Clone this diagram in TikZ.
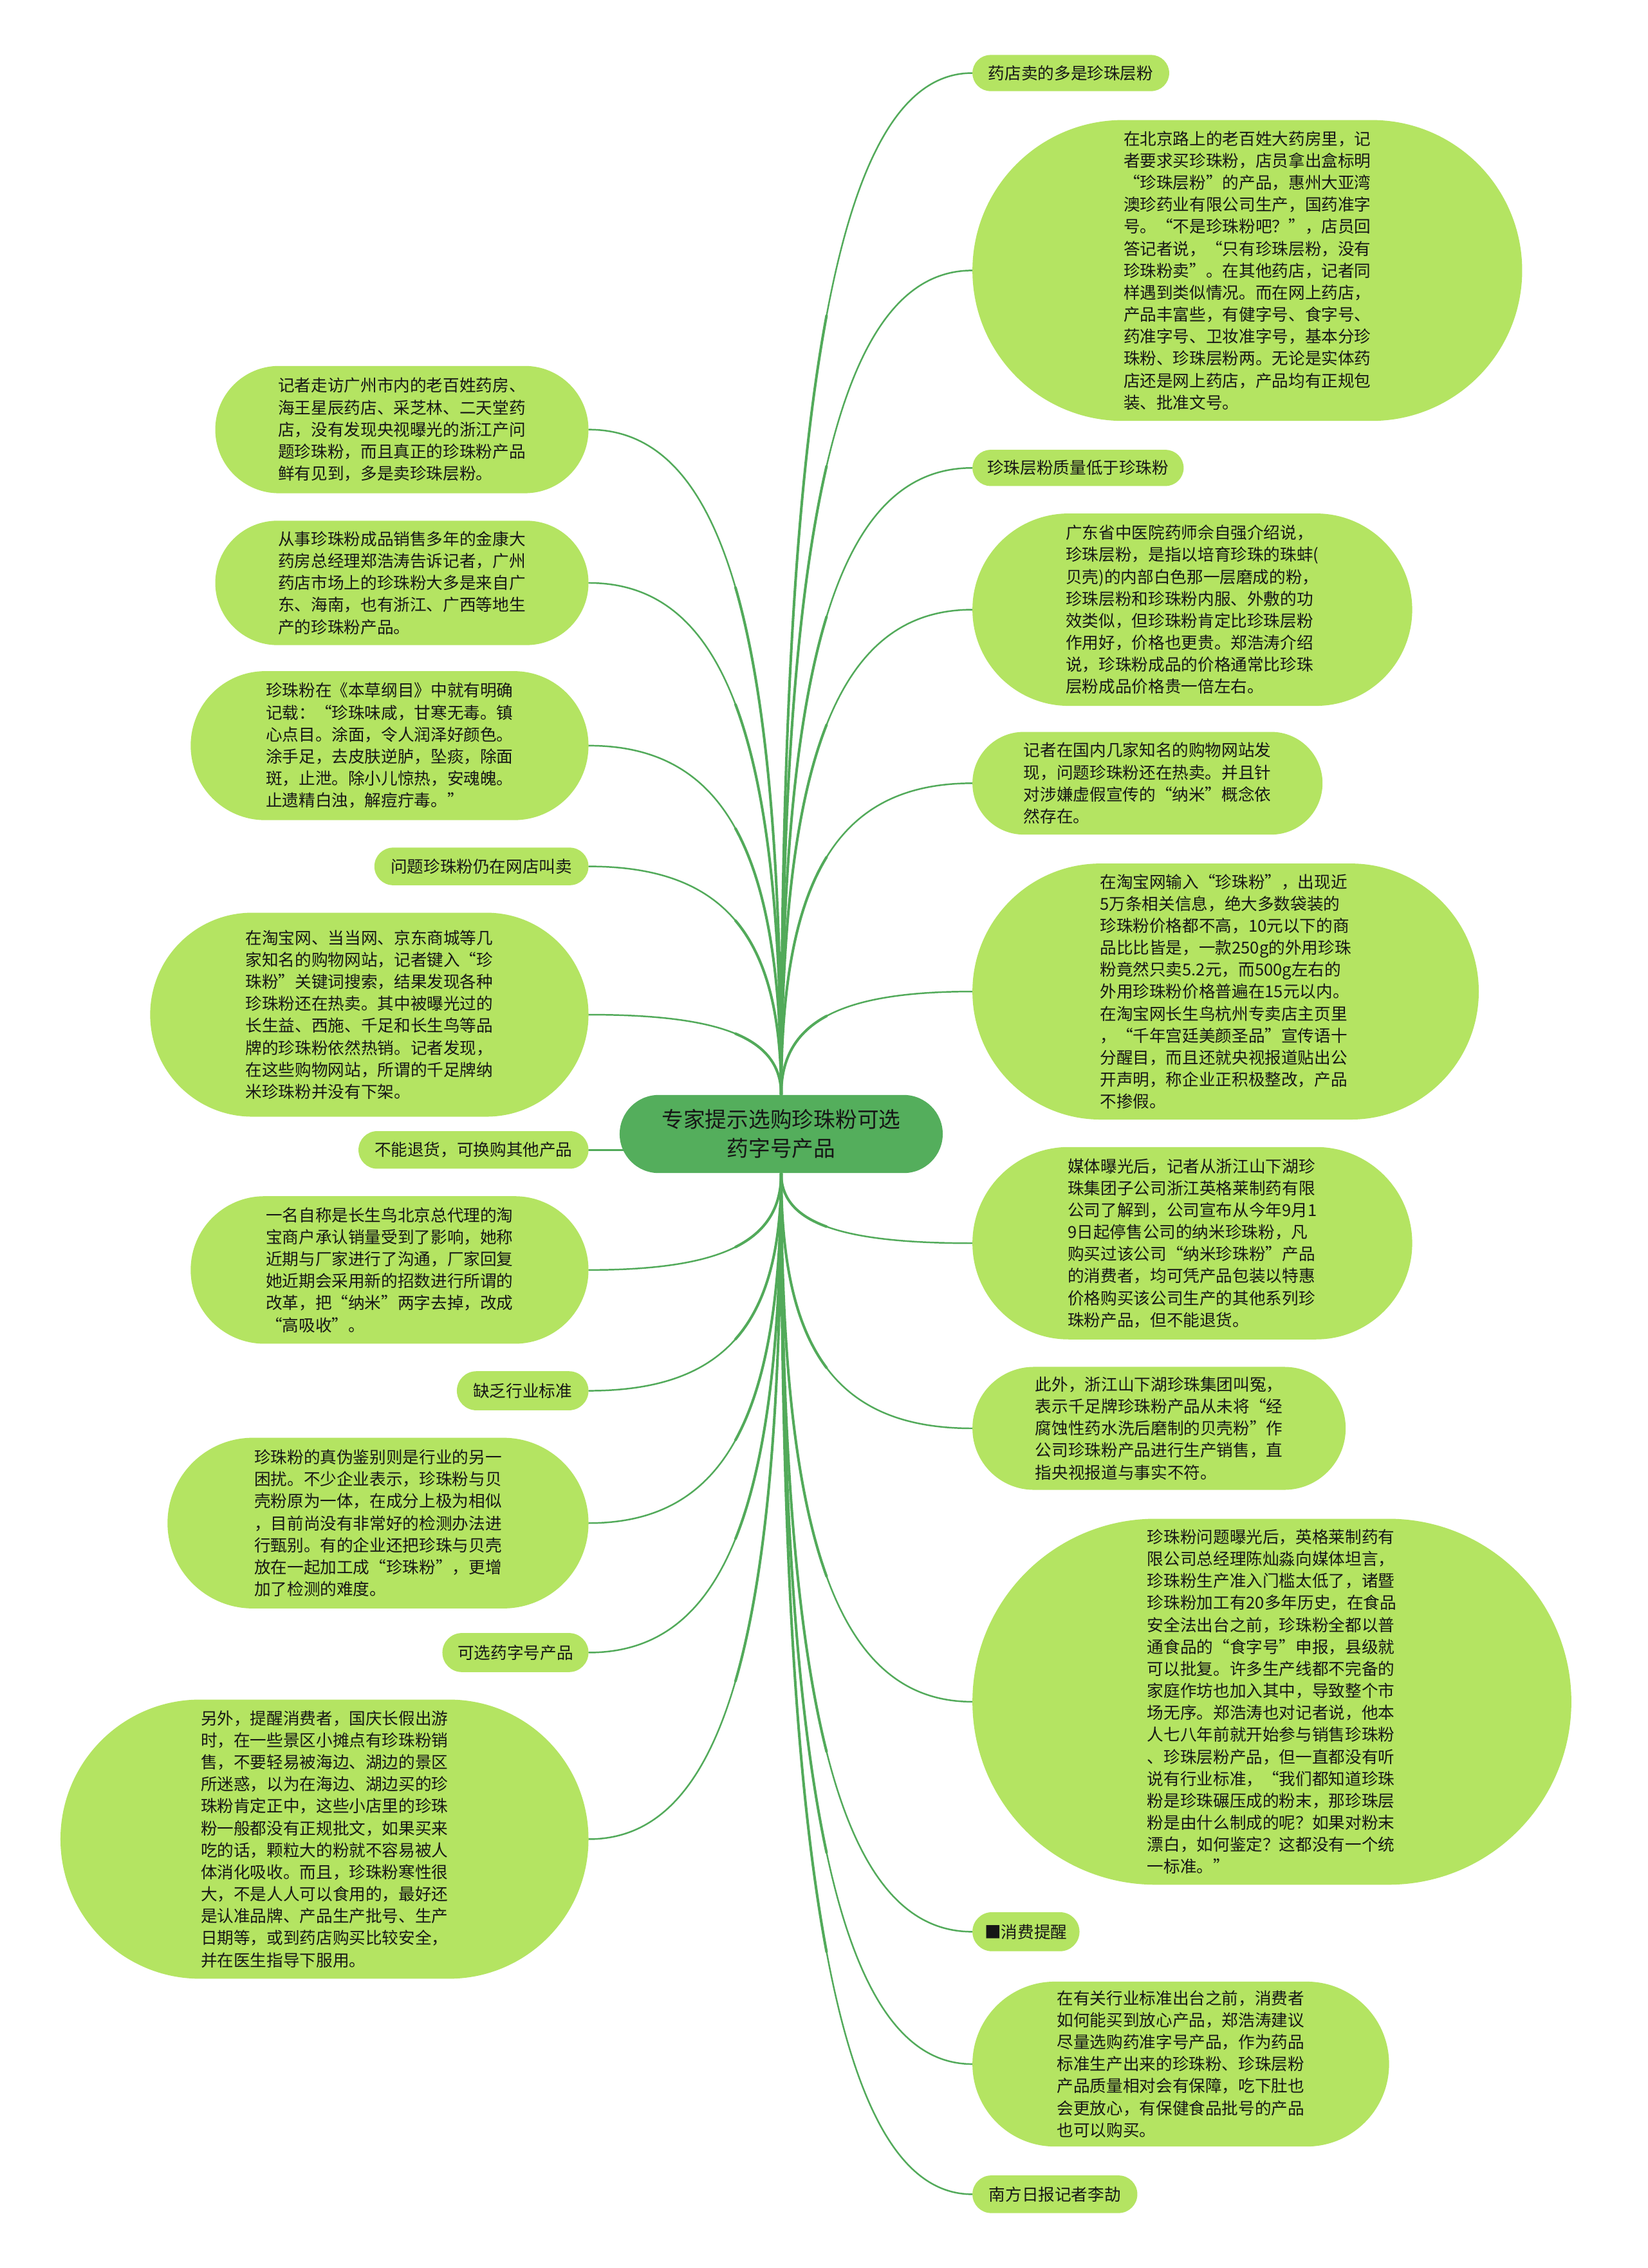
\documentclass[tikz,border=0pt]{standalone}
\usepackage{fontspec}
\setmainfont{Noto Sans CJK SC}
\usetikzlibrary{shapes.misc,calc}
\definecolor{leafg}{RGB}{180,228,98}
\definecolor{cenG}{RGB}{84,174,92}
\definecolor{lineg}{RGB}{82,170,90}
\definecolor{txt}{RGB}{22,22,22}
\pgfdeclarelayer{background}
\pgfsetlayers{background,main}
\newcommand\mmlink[2]{%
 \coordinate (P0) at (#1);
 \coordinate (P3) at (#2);
 \coordinate (C1) at ($(#1)!0.7!(#1 |- #2)$);
 \coordinate (C2) at ($(#2)!0.7!(#1 |- #2)$);
 \draw[conn] (P0) .. controls (C1) and (C2) .. (P3);
 \coordinate (A1) at ($(P0)!0.5!(C1)$);
 \coordinate (B1) at ($(C1)!0.5!(C2)$);
 \coordinate (D1) at ($(C2)!0.5!(P3)$);
 \coordinate (A2) at ($(A1)!0.5!(B1)$);
 \coordinate (B2) at ($(B1)!0.5!(D1)$);
 \coordinate (M) at ($(A2)!0.5!(B2)$);
 \draw[conn, line width=1.8pt] (P0) .. controls (A1) and (A2) .. (M);
}
\tikzset{
 leaf/.style={rounded rectangle, fill=leafg, draw=none, text=txt, align=left, inner xsep=2pt, inner ysep=4pt, font=\fontsize{11.4}{15.2}\selectfont},
 rleaf/.style={leaf, anchor=west},
 lleaf/.style={leaf, anchor=east},
 cen/.style={rounded rectangle, fill=cenG, draw=none, text=txt, align=center, font=\fontsize{15}{20}\selectfont, minimum width=230pt, minimum height=54pt},
 conn/.style={draw=lineg, line width=1.1pt, line cap=round}
}
\begin{document}
\begin{tikzpicture}[x=1pt,y=-1pt]
\useasboundingbox (0,0) rectangle (1139,1568);
\node[cen] (c) at (540,784) {专家提示选购珍珠粉可选\\药字号产品};
% right side
\node[rleaf, minimum width=140pt, minimum height=25pt] (r1) at (672,50.5) {药店卖的多是珍珠层粉};
\node[rleaf, minimum width=384pt, minimum height=208pt] (r2) at (672,187) {在北京路上的老百姓大药房里，记\\
者要求买珍珠粉，店员拿出盒标明\\
“珍珠层粉”的产品，惠州大亚湾\\
澳珍药业有限公司生产，国药准字\\
号。“不是珍珠粉吧？”，店员回\\
答记者说，“只有珍珠层粉，没有\\
珍珠粉卖”。在其他药店，记者同\\
样遇到类似情况。而在网上药店，\\
产品丰富些，有健字号、食字号、\\
药准字号、卫妆准字号，基本分珍\\
珠粉、珍珠层粉两。无论是实体药\\
店还是网上药店，产品均有正规包\\
装、批准文号。};
\node[rleaf, minimum width=150pt, minimum height=25pt] (r3) at (672,323.5) {珍珠层粉质量低于珍珠粉};
\node[rleaf, minimum width=308pt, minimum height=133pt] (r4) at (672,421.5) {广东省中医院药师佘自强介绍说，\\
珍珠层粉，是指以培育珍珠的珠蚌(\\
贝壳)的内部白色那一层磨成的粉，\\
珍珠层粉和珍珠粉内服、外敷的功\\
效类似，但珍珠粉肯定比珍珠层粉\\
作用好，价格也更贵。郑浩涛介绍\\
说，珍珠粉成品的价格通常比珍珠\\
层粉成品价格贵一倍左右。};
\node[rleaf, minimum width=246pt, minimum height=71pt] (r5) at (672,541.5) {记者在国内几家知名的购物网站发\\
现，问题珍珠粉还在热卖。并且针\\
对涉嫌虚假宣传的“纳米”概念依\\
然存在。};
\node[rleaf, minimum width=354pt, minimum height=177pt] (r6) at (672,685.5) {在淘宝网输入“珍珠粉”，出现近\\
5万条相关信息，绝大多数袋装的\\
珍珠粉价格都不高，10元以下的商\\
品比比皆是，一款250g的外用珍珠\\
粉竟然只卖5.2元，而500g左右的\\
外用珍珠粉价格普遍在15元以内。\\
在淘宝网长生鸟杭州专卖店主页里\\
，“千年宫廷美颜圣品”宣传语十\\
分醒目，而且还就央视报道贴出公\\
开声明，称企业正积极整改，产品\\
不掺假。};
\node[rleaf, minimum width=308pt, minimum height=133pt] (r7) at (672,859.5) {媒体曝光后，记者从浙江山下湖珍\\
珠集团子公司浙江英格莱制药有限\\
公司了解到，公司宣布从今年9月1\\
9日起停售公司的纳米珍珠粉，凡\\
购买过该公司“纳米珍珠粉”产品\\
的消费者，均可凭产品包装以特惠\\
价格购买该公司生产的其他系列珍\\
珠粉产品，但不能退货。};
\node[rleaf, minimum width=262pt, minimum height=85pt] (r8) at (672,987.5) {此外，浙江山下湖珍珠集团叫冤，\\
表示千足牌珍珠粉产品从未将“经\\
腐蚀性药水洗后磨制的贝壳粉”作\\
公司珍珠粉产品进行生产销售，直\\
指央视报道与事实不符。};
\node[rleaf, minimum width=418pt, minimum height=253pt] (r9) at (672,1176.5) {珍珠粉问题曝光后，英格莱制药有\\
限公司总经理陈灿淼向媒体坦言，\\
珍珠粉生产准入门槛太低了，诸暨\\
珍珠粉加工有20多年历史，在食品\\
安全法出台之前，珍珠粉全都以普\\
通食品的“食字号”申报，县级就\\
可以批复。许多生产线都不完备的\\
家庭作坊也加入其中，导致整个市\\
场无序。郑浩涛也对记者说，他本\\
人七八年前就开始参与销售珍珠粉\\
、珍珠层粉产品，但一直都没有听\\
说有行业标准，“我们都知道珍珠\\
粉是珍珠碾压成的粉末，那珍珠层\\
粉是由什么制成的呢？如果对粉末\\
漂白，如何鉴定？这都没有一个统\\
一标准。”};
\node[rleaf, minimum width=78pt, minimum height=27pt] (r10) at (672,1335.5) {■消费提醒};
\node[rleaf, minimum width=292pt, minimum height=114pt] (r11) at (672,1427) {在有关行业标准出台之前，消费者\\
如何能买到放心产品，郑浩涛建议\\
尽量选购药准字号产品，作为药品\\
标准生产出来的珍珠粉、珍珠层粉\\
产品质量相对会有保障，吃下肚也\\
会更放心，有保健食品批号的产品\\
也可以购买。};
\node[rleaf, minimum width=118pt, minimum height=26pt] (r12) at (672,1517) {南方日报记者李劼};
% left side
\node[lleaf, minimum width=262pt, minimum height=88pt] (l1) at (407,297) {记者走访广州市内的老百姓药房、\\
海王星辰药店、采芝林、二天堂药\\
店，没有发现央视曝光的浙江产问\\
题珍珠粉，而且真正的珍珠粉产品\\
鲜有见到，多是卖珍珠层粉。};
\node[lleaf, minimum width=262pt, minimum height=86pt] (l2) at (407,403) {从事珍珠粉成品销售多年的金康大\\
药房总经理郑浩涛告诉记者，广州\\
药店市场上的珍珠粉大多是来自广\\
东、海南，也有浙江、广西等地生\\
产的珍珠粉产品。};
\node[lleaf, minimum width=279pt, minimum height=103pt] (l3) at (407,515.5) {珍珠粉在《本草纲目》中就有明确\\
记载：“珍珠味咸，甘寒无毒。镇\\
心点目。涂面，令人润泽好颜色。\\
涂手足，去皮肤逆胪，坠痰，除面\\
斑，止泄。除小儿惊热，安魂魄。\\
止遗精白浊，解痘疔毒。”};
\node[lleaf, minimum width=152pt, minimum height=26pt] (l4) at (407,599) {问题珍珠粉仍在网店叫卖};
\node[lleaf, minimum width=307pt, minimum height=141pt] (l5) at (407,701.5) {在淘宝网、当当网、京东商城等几\\
家知名的购物网站，记者键入“珍\\
珠粉”关键词搜索，结果发现各种\\
珍珠粉还在热卖。其中被曝光过的\\
长生益、西施、千足和长生鸟等品\\
牌的珍珠粉依然热销。记者发现，\\
在这些购物网站，所谓的千足牌纳\\
米珍珠粉并没有下架。};
\node[lleaf, minimum width=163pt, minimum height=26pt] (l6) at (407,795) {不能退货，可换购其他产品};
\node[lleaf, minimum width=279pt, minimum height=102pt] (l7) at (407,878) {一名自称是长生鸟北京总代理的淘\\
宝商户承认销量受到了影响，她称\\
近期与厂家进行了沟通，厂家回复\\
她近期会采用新的招数进行所谓的\\
改革，把“纳米”两字去掉，改成\\
“高吸收”。};
\node[lleaf, minimum width=95pt, minimum height=27pt] (l8) at (407,961.5) {缺乏行业标准};
\node[lleaf, minimum width=295pt, minimum height=118pt] (l9) at (407,1053) {珍珠粉的真伪鉴别则是行业的另一\\
困扰。不少企业表示，珍珠粉与贝\\
壳粉原为一体，在成分上极为相似\\
，目前尚没有非常好的检测办法进\\
行甄别。有的企业还把珍珠与贝壳\\
放在一起加工成“珍珠粉”，更增\\
加了检测的难度。};
\node[lleaf, minimum width=105pt, minimum height=27pt] (l10) at (407,1142.5) {可选药字号产品};
\node[lleaf, minimum width=369pt, minimum height=193pt] (l11) at (407,1271.5) {另外，提醒消费者，国庆长假出游\\
时，在一些景区小摊点有珍珠粉销\\
售，不要轻易被海边、湖边的景区\\
所迷惑，以为在海边、湖边买的珍\\
珠粉肯定正中，这些小店里的珍珠\\
粉一般都没有正规批文，如果买来\\
吃的话，颗粒大的粉就不容易被人\\
体消化吸收。而且，珍珠粉寒性很\\
大，不是人人可以食用的，最好还\\
是认准品牌、产品生产批号、生产\\
日期等，或到药店购买比较安全，\\
并在医生指导下服用。};
\begin{pgfonlayer}{background}
\fill[white] (0,0) rectangle (1139,1568);
\mmlink{c.north}{r1.west}
\mmlink{c.north}{r2.west}
\mmlink{c.north}{r3.west}
\mmlink{c.north}{r4.west}
\mmlink{c.north}{r5.west}
\mmlink{c.north}{r6.west}
\mmlink{c.south}{r7.west}
\mmlink{c.south}{r8.west}
\mmlink{c.south}{r9.west}
\mmlink{c.south}{r10.west}
\mmlink{c.south}{r11.west}
\mmlink{c.south}{r12.west}
\mmlink{c.north}{l1.east}
\mmlink{c.north}{l2.east}
\mmlink{c.north}{l3.east}
\mmlink{c.north}{l4.east}
\mmlink{c.north}{l5.east}
\draw[conn, line width=1.5pt] (l6.east) -- (l6.east -| c.center);
\mmlink{c.south}{l7.east}
\mmlink{c.south}{l8.east}
\mmlink{c.south}{l9.east}
\mmlink{c.south}{l10.east}
\mmlink{c.south}{l11.east}
\end{pgfonlayer}
\end{tikzpicture}
\end{document}
